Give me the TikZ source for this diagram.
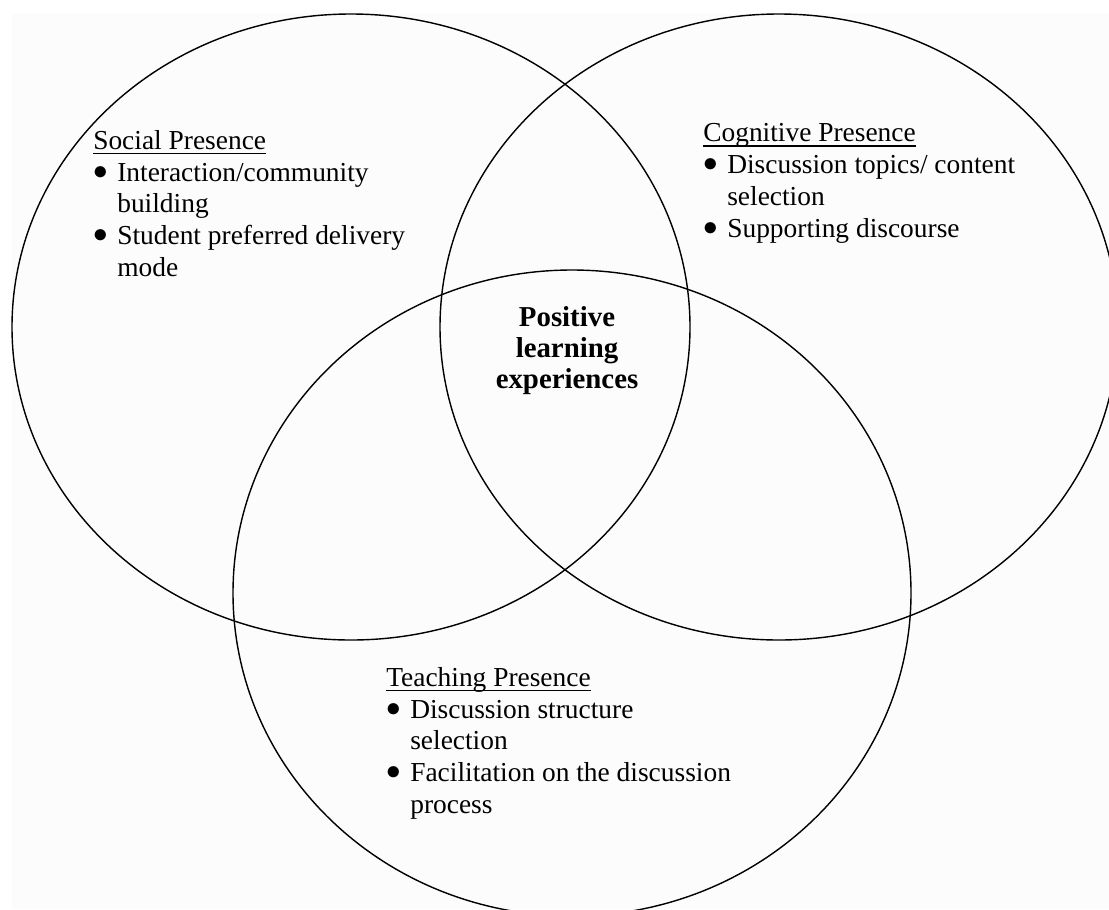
\documentclass[tikz,border=0pt]{standalone}
\usepackage{amsmath}
\usepackage{fontspec}
\setmainfont{Liberation Serif}
\definecolor{paper}{RGB}{252,252,252}
\newcommand{\head}[1]{\underline{\smash[b]{#1}}}
\newcommand{\itm}[1]{\makebox[0.6cm][l]{\raisebox{0.07em}{$\bullet$}}#1}
\newcommand{\cnt}[1]{\hspace{0.6cm}#1}

\begin{document}
\begin{tikzpicture}[x=0.025cm,y=-0.025cm,
    rim/.style={line width=1pt},
    presence/.style={anchor=north west,align=left,inner sep=0pt,font=\fontsize{19.5}{22.6}\selectfont},
    core/.style={anchor=north,align=center,inner sep=0pt,font=\fontsize{20.5}{22}\selectfont\bfseries}]
    \useasboundingbox (0,0) rectangle (1109,909);
    \clip (0,0) rectangle (1109,909);
    \fill[paper] (12,14) rectangle (1109,909);
    \draw[rim] (351,327) ellipse [x radius=339,y radius=313];
    \draw[rim] (779,327) ellipse [x radius=339,y radius=313];
    \draw[rim] (572,593) ellipse [x radius=339,y radius=323];
    \node[presence] (social) at (93,130) {\head{Social Presence}\\
      \itm{Interaction/community}\\ \cnt{building}\\
      \itm{Student preferred delivery}\\ \cnt{mode}};
    \node[presence] (cognitive) at (703,123.5) {\head{Cognitive Presence}\\
      \itm{Discussion topics/ content}\\ \cnt{selection}\\
      \itm{Supporting discourse}};
    \node[presence] (teaching) at (386,667) {\head{Teaching Presence}\\
      \itm{Discussion structure}\\ \cnt{selection}\\
      \itm{Facilitation on the discussion}\\ \cnt{process}};
    \node[core] (positive) at (567,306) {Positive\\learning\\experiences};
  \end{tikzpicture}
\end{document}
